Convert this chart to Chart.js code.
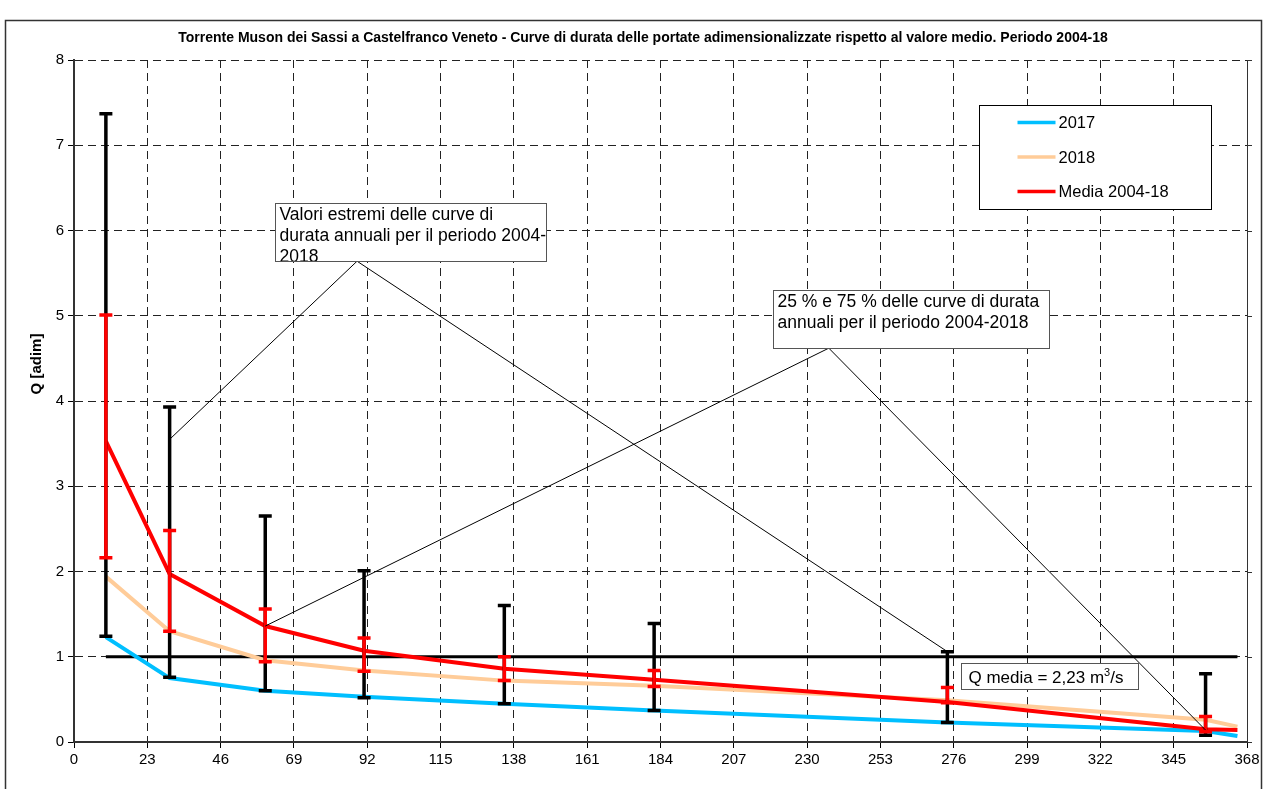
<!DOCTYPE html>
<html>
<head>
<meta charset="utf-8">
<script src="https://cdn.jsdelivr.net/npm/chart.js@4/dist/chart.umd.min.js"></script>
<style>
  html, body { margin: 0; padding: 0; background: #fff; }
  #wrap { width: 1268px; height: 789px; }
</style>
</head>
<body>
<div id="wrap"><canvas id="c" width="1268" height="789"></canvas></div>
<script>
// durata (giorni) e portate adimensionali
var durationDays = [10, 30, 60, 91, 135, 182, 274, 355, 365];
var q2017 = [1.23, 0.75, 0.60, 0.53, 0.45, 0.37, 0.23, 0.13, 0.07];
var q2018 = [1.94, 1.30, 0.96, 0.84, 0.72, 0.66, 0.49, 0.26, 0.18];
var qMedia = [3.53, 1.97, 1.36, 1.07, 0.86, 0.73, 0.47, 0.15, 0.14];

// barre: estremi e quartili 2004-2018
var barDays = [10, 30, 60, 91, 135, 182, 274, 355];
var qMin = [1.24, 0.76, 0.60, 0.52, 0.45, 0.37, 0.23, 0.08];
var qMax = [7.37, 3.93, 2.65, 2.01, 1.60, 1.39, 1.06, 0.80];
var q25 = [2.16, 1.30, 0.94, 0.83, 0.72, 0.65, 0.46, 0.12];
var q75 = [5.01, 2.48, 1.56, 1.22, 1.00, 0.84, 0.64, 0.30];

// linea Q media
var meanDays = [10, 365];
var meanVals = [1, 1];

var xTickStep = 23, xMax = 368;
var yTickStep = 1, yMax = 8;

var FONT = "'Liberation Sans', Arial, sans-serif";

function pts(xs, ys) {
  return xs.map(function (x, i) { return {x: x, y: ys[i]}; });
}

// disegno delle barre di errore
var errorBars = {
  id: 'errorBars',
  afterDatasetsDraw: function (chart) {
    var ctx = chart.ctx, xs = chart.scales.x, ys = chart.scales.y;
    function bar(x, lo, hi, color, w) {
      var px = xs.getPixelForValue(x);
      var p1 = ys.getPixelForValue(lo), p2 = ys.getPixelForValue(hi);
      ctx.strokeStyle = color;
      ctx.lineWidth = w;
      ctx.beginPath();
      ctx.moveTo(px, p1); ctx.lineTo(px, p2);
      ctx.moveTo(px - 6.5, p1); ctx.lineTo(px + 6.5, p1);
      ctx.moveTo(px - 6.5, p2); ctx.lineTo(px + 6.5, p2);
      ctx.stroke();
    }
    ctx.save();
    barDays.forEach(function (d, i) { bar(d, qMin[i], qMax[i], '#000', 3.5); });
    barDays.forEach(function (d, i) { bar(d, q25[i], q75[i], '#ff0000', 3.5); });
    ctx.restore();
  }
};

// note, legenda, titolo, cornice
var extras = {
  id: 'extras',
  afterDraw: function (chart) {
    var ctx = chart.ctx, xs = chart.scales.x, ys = chart.scales.y, a = chart.chartArea;
    function X(v) { return xs.getPixelForValue(v); }
    function Y(v) { return ys.getPixelForValue(v); }
    ctx.save();

    // bordo destro dell'area
    ctx.strokeStyle = '#333';
    ctx.lineWidth = 1;
    ctx.beginPath();
    ctx.moveTo(a.right + 0.5, a.top); ctx.lineTo(a.right + 0.5, a.bottom);
    for (var t = 0; t <= yMax; t += yTickStep) {
      ctx.moveTo(a.right, Math.round(Y(t)) + 0.5); ctx.lineTo(a.right + 5, Math.round(Y(t)) + 0.5);
    }
    ctx.stroke();

    function callout(x0, y0, x1, y1, ax, ay, targets, lines) {
      ctx.strokeStyle = '#000';
      ctx.lineWidth = 1;
      ctx.beginPath();
      targets.forEach(function (p) {
        ctx.moveTo(X(ax), Y(ay)); ctx.lineTo(X(p[0]), Y(p[1]));
      });
      ctx.stroke();
      var l = Math.round(X(x0)) + 0.5, r = Math.round(X(x1)) + 0.5;
      var top = Math.round(Y(y0)) + 0.5, bot = Math.round(Y(y1)) + 0.5;
      ctx.fillStyle = '#fff';
      ctx.fillRect(l, top, r - l, bot - top);
      ctx.save();
      ctx.beginPath(); ctx.rect(l, top, r - l, bot - top); ctx.clip();
      ctx.fillStyle = '#000';
      ctx.font = '17.5px ' + FONT;
      ctx.textBaseline = 'middle';
      lines.forEach(function (s, i) { ctx.fillText(s, l + 4, top + 12 + i * 21); });
      ctx.restore();
      ctx.strokeStyle = '#555';
      ctx.strokeRect(l, top, r - l, bot - top);
    }

    callout(63, 6.32, 148.1, 5.64, 88.8, 5.64, [[30, 3.55], [274, 1.06]],
      ['Valori estremi delle curve di', 'durata annuali per il periodo 2004-', '2018']);
    callout(219.3, 5.30, 305.8, 4.62, 236.8, 4.62, [[60, 1.36], [355, 0.14]],
      ['25 % e 75 % delle curve di durata', 'annuali per il periodo 2004-2018']);

    // etichetta Q media
    var ql = Math.round(X(278.2)) + 0.5, qr = Math.round(X(333.8)) + 0.5;
    var qt = Math.round(Y(0.927)) + 0.5, qb = Math.round(Y(0.62)) + 0.5;
    ctx.fillStyle = '#fff';
    ctx.fillRect(ql, qt, qr - ql, qb - qt);
    ctx.strokeStyle = '#555';
    ctx.strokeRect(ql, qt, qr - ql, qb - qt);
    ctx.fillStyle = '#000';
    ctx.textBaseline = 'alphabetic';
    ctx.font = '17px ' + FONT;
    var s1 = 'Q media = 2,23 m';
    var tx = ql + 7, ty = qt + 19;
    ctx.fillText(s1, tx, ty);
    tx += ctx.measureText(s1).width;
    ctx.font = '11px ' + FONT;
    ctx.fillText('3', tx, ty - 7);
    tx += ctx.measureText('3').width;
    ctx.font = '17px ' + FONT;
    ctx.fillText('/s', tx, ty);

    // legenda
    var ll = Math.round(X(283.9)) + 0.5, lr = Math.round(X(356.7)) + 0.5;
    var lt = Math.round(Y(7.47)) + 0.5, lb = Math.round(Y(6.25)) + 0.5;
    ctx.fillStyle = '#fff';
    ctx.fillRect(ll, lt, lr - ll, lb - lt);
    ctx.strokeStyle = '#000';
    ctx.strokeRect(ll, lt, lr - ll, lb - lt);
    var items = [['2017', '#00bfff'], ['2018', '#ffcc99'], ['Media 2004-18', '#ff0000']];
    ctx.textBaseline = 'middle';
    items.forEach(function (it, i) {
      var yy = lt + 17 + i * 34.5;
      ctx.strokeStyle = it[1];
      ctx.lineWidth = 3.5;
      ctx.beginPath(); ctx.moveTo(ll + 38, yy); ctx.lineTo(ll + 76, yy); ctx.stroke();
      ctx.fillStyle = '#000';
      ctx.font = '16.5px ' + FONT;
      ctx.fillText(it[0], ll + 79, yy + 1);
    });

    // titolo
    ctx.font = 'bold 14px ' + FONT;
    ctx.textAlign = 'center';
    ctx.textBaseline = 'middle';
    ctx.fillText('Torrente Muson dei Sassi a Castelfranco Veneto - Curve di durata delle portate adimensionalizzate rispetto al valore medio. Periodo 2004-18', 643, 38);

    // titolo asse y
    ctx.save();
    ctx.translate(37, 364);
    ctx.rotate(-Math.PI / 2);
    ctx.font = 'bold 15px ' + FONT;
    ctx.fillText('Q [adim]', 0, 0);
    ctx.restore();

    // cornice esterna
    ctx.strokeStyle = '#333';
    ctx.lineWidth = 1.5;
    ctx.strokeRect(5.5, 20.5, 1256, 800);
    ctx.restore();
  }
};

var ctx = document.getElementById('c').getContext('2d');
var chart = new Chart(ctx, {
  type: 'line',
  data: {
    datasets: [
      {label: 'Media 2004-18', data: pts(durationDays, qMedia), borderColor: '#ff0000', borderWidth: 4},
      {label: '2018', data: pts(durationDays, q2018), borderColor: '#ffcc99', borderWidth: 4},
      {label: '2017', data: pts(durationDays, q2017), borderColor: '#00bfff', borderWidth: 4},
      {label: 'Q media', data: pts(meanDays, meanVals), borderColor: '#000', borderWidth: 3}
    ]
  },
  options: {
    responsive: false,
    animation: false,
    events: [],
    elements: {point: {radius: 0}, line: {tension: 0}},
    layout: {padding: {top: 60, right: 21, bottom: 0, left: 0}},
    plugins: {legend: {display: false}, tooltip: {enabled: false}, title: {display: false}},
    scales: {
      x: {
        type: 'linear', min: 0, max: xMax,
        afterFit: function (s) { s.height = 47; },
        afterBuildTicks: function (s) {
          var t = [];
          for (var v = 0; v <= xMax; v += xTickStep) t.push({value: v});
          s.ticks = t;
        },
        ticks: {font: {family: FONT, size: 15}, color: '#000', padding: 3, maxRotation: 0, autoSkip: false},
        grid: {color: '#222', lineWidth: 1, drawTicks: true, tickLength: 6, tickColor: '#000'},
        border: {display: true, color: '#333', width: 2, dash: [8, 5]}
      },
      y: {
        min: 0, max: yMax,
        afterFit: function (s) { s.width = 74; },
        ticks: {stepSize: yTickStep, font: {family: FONT, size: 15}, color: '#000', padding: 4},
        grid: {color: '#222', lineWidth: 1, drawTicks: true, tickLength: 6, tickColor: '#000'},
        border: {display: true, color: '#333', width: 2, dash: [8, 5]}
      }
    }
  },
  plugins: [errorBars, extras]
});
</script>
</body>
</html>
